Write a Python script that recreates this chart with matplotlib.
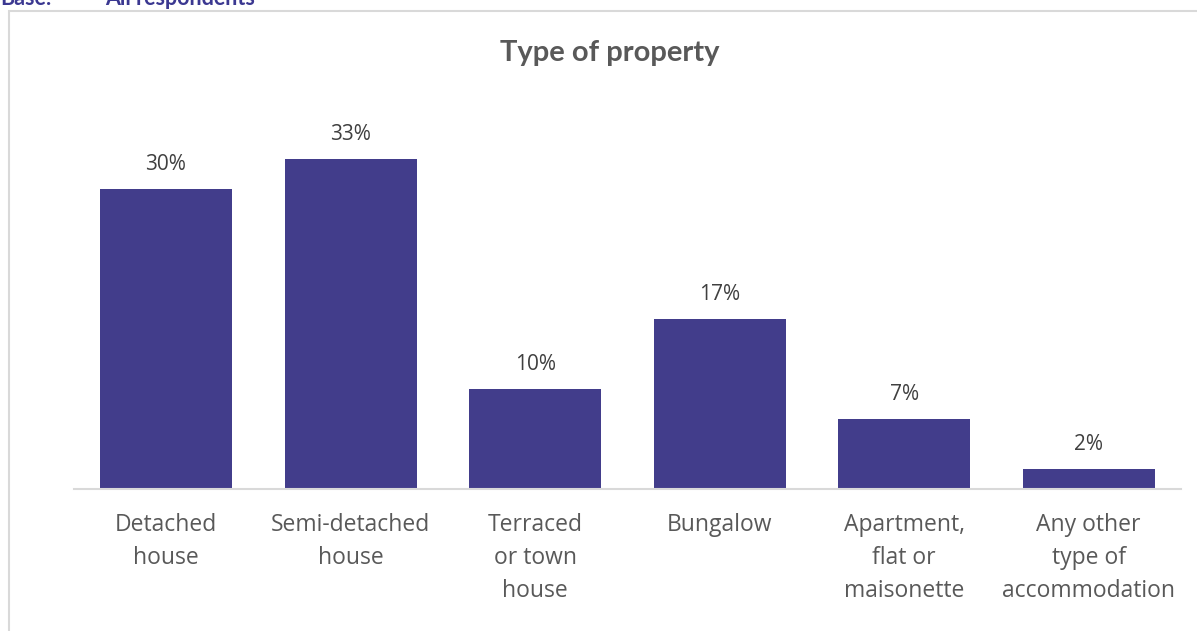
import numpy as np
import matplotlib.pyplot as plt
from matplotlib.patches import Rectangle

categories = ['Detached\nhouse', 'Semi-detached\nhouse', 'Terraced\nor town\nhouse',
              'Bungalow', 'Apartment,\nflat or\nmaisonette', 'Any other\ntype of\naccommodation']
shares = [30, 33, 10, 17, 7, 2]

bar_color = '#423D8B'
plt.rcParams['font.family'] = ['Open Sans', 'DejaVu Sans']

fig = plt.figure(figsize=(11.97, 6.31), dpi=100)

# chart frame, runs off the right and bottom edge
fig.patches.append(Rectangle((9 / 1197, -0.1), 1.2, 1 - 11 / 631 + 0.1,
                             transform=fig.transFigure, fill=False,
                             edgecolor='#D9D9D9', linewidth=1.5))

fig.text(0, 1 - 5 / 631, 'Base:', fontsize=15.5, fontweight='bold',
         color='#3B3891', va='baseline', family=['Lato'])
fig.text(105 / 1197, 1 - 5 / 631, 'All respondents', fontsize=15.5,
         fontweight='bold', color='#3B3891', va='baseline', family=['Lato'])

ax = fig.add_axes([73.7 / 1197, 1 - 489 / 631, (1181 - 73.7) / 1197, 350 / 631])
x = np.arange(len(shares))
ax.bar(x, shares, width=0.715, color=bar_color)
for xi, v in zip(x, shares):
    ax.text(xi, v + 2.4, f'{v}%', ha='center', va='center',
            fontsize=15, color='#404040')

ax.set_xlim(-0.5, 5.5)
ax.set_ylim(0, 35)
ax.set_xticks(x)
ax.set_xticklabels(categories, fontsize=16.5, color='#595959', linespacing=1.5)
ax.tick_params(axis='x', length=0, pad=17)
ax.set_yticks([])
for s in ['top', 'right', 'left']:
    ax.spines[s].set_visible(False)
ax.spines['bottom'].set_color('#D9D9D9')
ax.spines['bottom'].set_linewidth(1.5)

fig.text(610 / 1197, 1 - 53 / 631, 'Type of property', ha='center', va='center',
         fontsize=21, fontweight='bold', color='#595959', family=['Lato'])

fig.savefig('out.png', dpi=100)
